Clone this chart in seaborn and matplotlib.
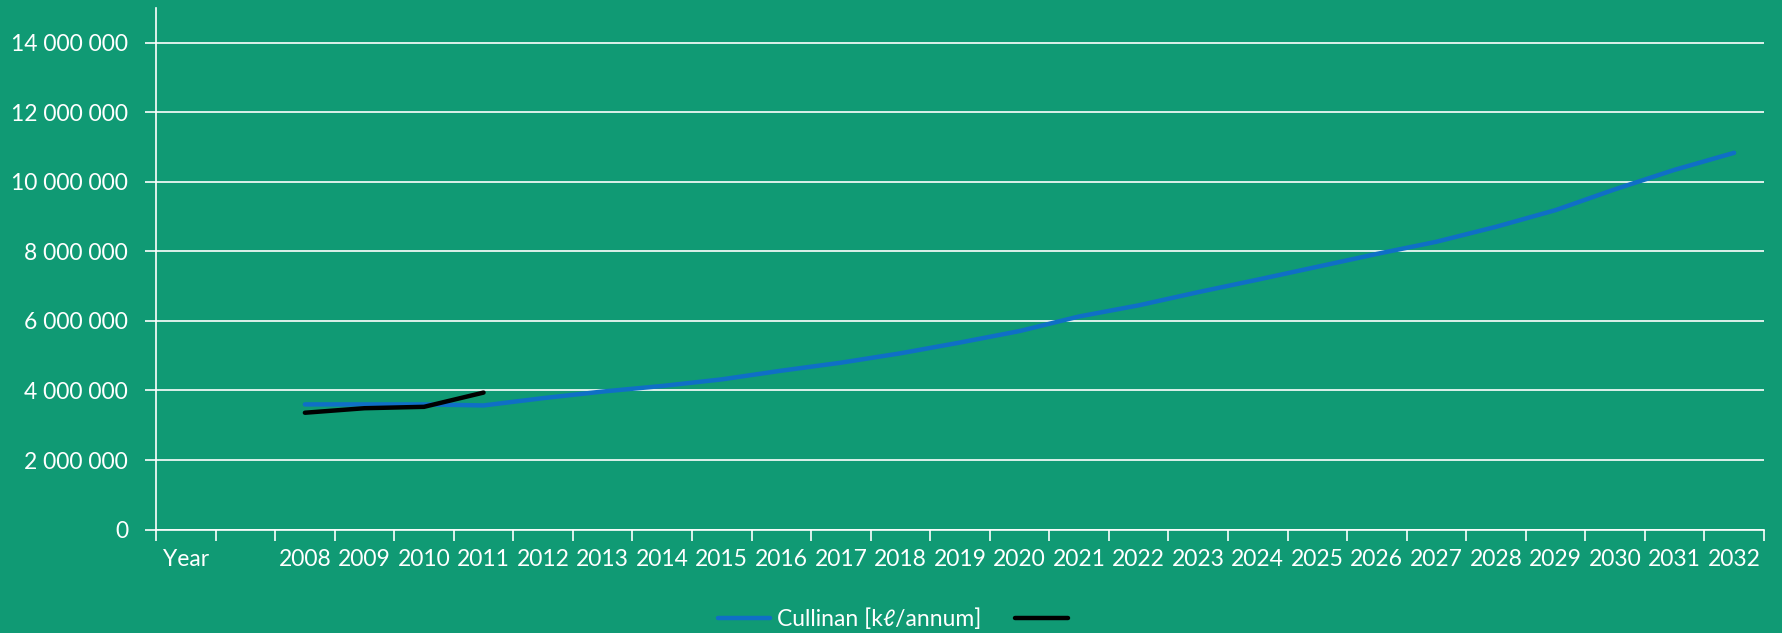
import numpy as np
import pandas as pd
import seaborn as sns
import matplotlib.pyplot as plt
from matplotlib.ticker import FuncFormatter, FixedLocator

# ---------------------------------------------------
# Daten
# ---------------------------------------------------
categories = ["Year", ""] + [str(y) for y in range(2008, 2033)]

cullinan_years = [str(y) for y in range(2008, 2033)]
cullinan_values = [3600000, 3600000, 3600000, 3570000, 3780000, 3970000, 4130000,
                   4320000, 4570000, 4800000, 5070000, 5380000, 5710000, 6130000,
                   6450000, 6830000, 7190000, 7560000, 7930000, 8280000, 8710000,
                   9190000, 9790000, 10350000, 10840000]

actual_years = ["2008", "2009", "2010", "2011"]
actual_values = [3360000, 3490000, 3530000, 3940000]

legend_labels = ["Cullinan [kℓ/annum]", ""]

BG = "#109a74"
BLUE = "#0f6fc6"
FONT = ["Lato", "DejaVu Sans"]

sns.set_style("white")
plt.rcParams["font.family"] = FONT

pos = {c: i for i, c in enumerate(categories)}
df_c = pd.DataFrame({"x": [pos[y] for y in cullinan_years], "y": cullinan_values})
df_a = pd.DataFrame({"x": [pos[y] for y in actual_years], "y": actual_values})

fig = plt.figure(figsize=(17.83, 6.33), dpi=100, facecolor=BG)
ax = fig.add_axes([0.0875, 0.1635, 0.9018, 0.8235])
ax.set_facecolor(BG)

sns.lineplot(data=df_c, x="x", y="y", ax=ax, color=BLUE, linewidth=3.2, legend=False)
sns.lineplot(data=df_a, x="x", y="y", ax=ax, color="black", linewidth=3.2, legend=False)

# Achsen
ax.set_xlim(-0.5, len(categories) - 0.5)
ax.set_ylim(0, 15000000)
ax.set_yticks(np.arange(0, 14000001, 2000000))
ax.yaxis.set_major_formatter(FuncFormatter(lambda v, p: f"{int(v):,}".replace(",", " ")))
ax.grid(axis="y", color="white", lw=1.2)
ax.set_axisbelow(True)

ax.xaxis.set_major_locator(FixedLocator(np.arange(-0.5, len(categories), 1.0)))
ax.xaxis.set_minor_locator(FixedLocator(np.arange(len(categories))))
ax.set_xticklabels([], minor=False)
ax.set_xticklabels(categories, minor=True)
ax.tick_params(axis="x", which="major", length=8, width=1.2, color="white", direction="out", bottom=True)
ax.tick_params(axis="x", which="minor", length=0, pad=14, labelsize=16.5, labelcolor="white", bottom=True)
ax.tick_params(axis="y", length=8, width=1.2, color="white", direction="out", pad=12,
               labelsize=16.5, labelcolor="white", left=True)
ax.set_xlabel("")
ax.set_ylabel("")

for s in ["top", "right"]:
    ax.spines[s].set_visible(False)
for s in ["left", "bottom"]:
    ax.spines[s].set_color("white")
    ax.spines[s].set_linewidth(1.2)

# Legende unten mittig
fig.legend(ax.get_lines()[:2], legend_labels, loc="center", bbox_to_anchor=(0.5025, 0.022),
           ncol=2, frameon=False, fontsize=16.5, handlelength=2.3,
           handletextpad=0.27, columnspacing=1.5, labelcolor="white")

fig.savefig("out.png", dpi=100, facecolor=BG)
